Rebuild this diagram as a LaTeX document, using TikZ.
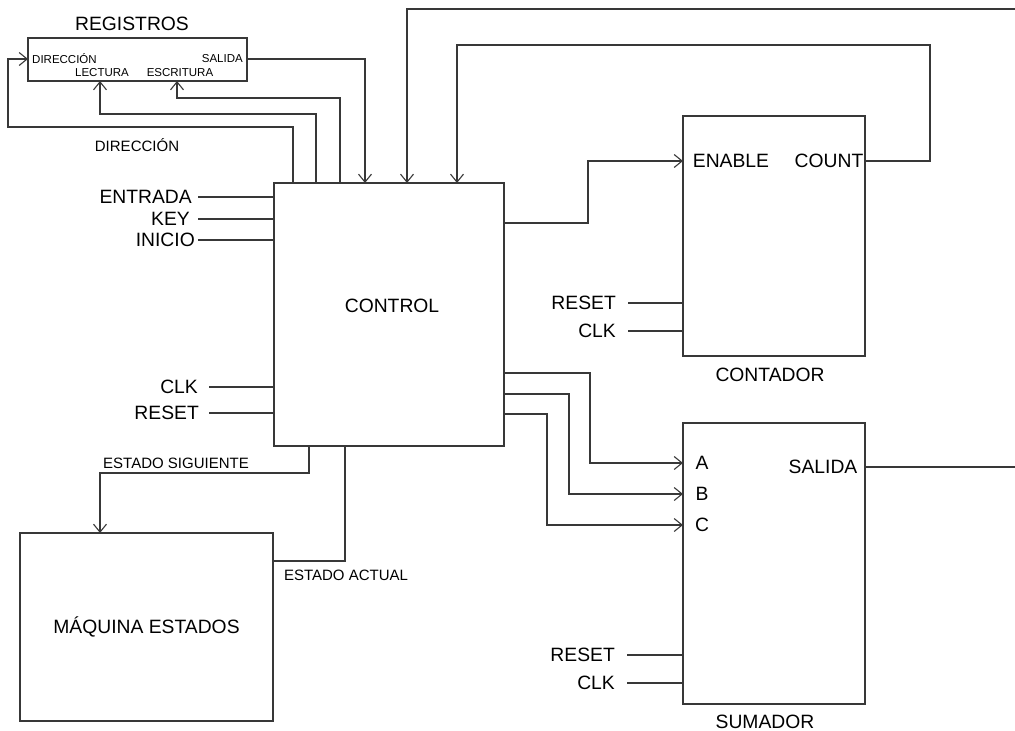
\documentclass[tikz,border=0pt]{standalone}
\usepackage{fontspec}
\setmainfont{Liberation Sans}
\usetikzlibrary{arrows.meta}

\colorlet{ln}{black!78}
\tikzset{
  big/.style={font=\fontsize{19.3}{21}\selectfont},
  mid/.style={font=\fontsize{15}{17}\selectfont},
  small/.style={font=\fontsize{11.5}{13}\selectfont},
  blk/.style={draw=ln, line width=1.1pt, inner sep=0pt, outer sep=0pt},
  wire/.style={draw=ln, line width=1.1pt},
  arr/.style={-{Straight Barb[length=8pt,width=13pt]}},
  pinl/.style={anchor=east, inner sep=0pt},
}

\begin{document}
\begin{tikzpicture}[x=1pt, y=-1pt]
\useasboundingbox (0,0) rectangle (1015,731);

% bloques
\node[blk, minimum width=219pt, minimum height=43pt] (reg) at (137.5,59.5) {};
\node[blk, minimum width=230pt, minimum height=263pt] (ctrl) at (389,314.5) {};
\node[blk, minimum width=182pt, minimum height=240pt] (cnt) at (774,236) {};
\node[blk, minimum width=182pt, minimum height=281pt] (sum) at (774,563.5) {};
\node[blk, big, minimum width=253pt, minimum height=188pt] (maq) at (146.5,627) {MÁQUINA ESTADOS};

% registros
\node[big] (treg) at (132,24) {REGISTROS};
\node[small, anchor=west, inner sep=0pt] (rdir) at (32,59) {DIRECCIÓN};
\node[small, pinl] (rsal) at (243,59) {SALIDA};
\node[small] (rlec) at (102,73) {LECTURA};
\node[small] (resc) at (180,73) {ESCRITURA};
\node[mid] (tdir) at (137,145) {DIRECCIÓN};

% control
\node[big] (tctrl) at (392,306) {CONTROL};
\node[big, pinl] (ient) at (192,197) {ENTRADA};
\node[big, pinl] (ikey) at (190,219) {KEY};
\node[big, pinl] (iini) at (195,240) {INICIO};
\node[big, pinl] (iclk) at (198,387) {CLK};
\node[big, pinl] (irst) at (199,413) {RESET};

% contador
\node[big] (pen) at (731,161) {ENABLE};
\node[big] (pco) at (829,161) {COUNT};
\node[big] (tcnt) at (770,375) {CONTADOR};
\node[big, pinl] (crst) at (616,303) {RESET};
\node[big, pinl] (cclk) at (616,331) {CLK};

% sumador
\node[big] (pa) at (702,463) {A};
\node[big] (pb) at (702,494) {B};
\node[big] (pc) at (702,525) {C};
\node[big] (psal) at (823,467) {SALIDA};
\node[big] (tsum) at (765,722) {SUMADOR};
\node[big, pinl] (srst) at (615,655) {RESET};
\node[big, pinl] (sclk) at (615,683) {CLK};

% maquina de estados
\node[mid] (tsig) at (176,463) {ESTADO SIGUIENTE};
\node[mid] (tact) at (346,575) {ESTADO ACTUAL};

\coordinate (ext1) at (1015,9);
\coordinate (ext2) at (1015,467);

% entradas
\draw[wire] ([xshift=6pt]ient.east) -- (ctrl.west |- ient);
\draw[wire] ([xshift=8pt]ikey.east) -- (ctrl.west |- ikey);
\draw[wire] ([xshift=3pt]iini.east) -- (ctrl.west |- iini);
\draw[wire] ([xshift=11pt]iclk.east) -- (ctrl.west |- iclk);
\draw[wire] ([xshift=10pt]irst.east) -- (ctrl.west |- irst);
\draw[wire] ([xshift=12pt]crst.east) -- (cnt.west |- crst);
\draw[wire] ([xshift=12pt]cclk.east) -- (cnt.west |- cclk);
\draw[wire] ([xshift=12pt]srst.east) -- (sum.west |- srst);
\draw[wire] ([xshift=12pt]sclk.east) -- (sum.west |- sclk);

% control <-> registros
\draw[wire, arr] (reg.east |- rsal) -| ([xshift=91pt]ctrl.north west);
\draw[wire, arr] ([xshift=19pt]ctrl.north west) |- (8,127) |- (reg.west |- rdir);
\draw[wire, arr] ([xshift=42pt]ctrl.north west) |- (100,114) -- (100,81);
\draw[wire, arr] ([xshift=66pt]ctrl.north west) |- (177,98) -- (177,81);

% realimentaciones
\draw[wire, arr] (ext1) -| ([xshift=133pt]ctrl.north west);
\draw[wire, arr] (cnt.east |- pco) -| (930,45) -| ([xshift=183pt]ctrl.north west);

% control -> contador, sumador
\draw[wire, arr] (ctrl.east |- 0,223) -- ++(84,0) |- (cnt.west |- pen);
\draw[wire, arr] (ctrl.east |- 0,373) -- ++(86,0) |- (sum.west |- pa);
\draw[wire, arr] (ctrl.east |- 0,394) -- ++(65,0) |- (sum.west |- pb);
\draw[wire, arr] (ctrl.east |- 0,414) -- ++(43,0) |- (sum.west |- pc);
\draw[wire] (sum.east |- psal) -- (ext2);

% control <-> maquina
\draw[wire, arr] ([xshift=35pt]ctrl.south west) |- (100,473) -- ([xshift=80pt]maq.north west);
\draw[wire] (maq.east |- 0,561) -| ([xshift=71pt]ctrl.south west);
\end{tikzpicture}
\end{document}
